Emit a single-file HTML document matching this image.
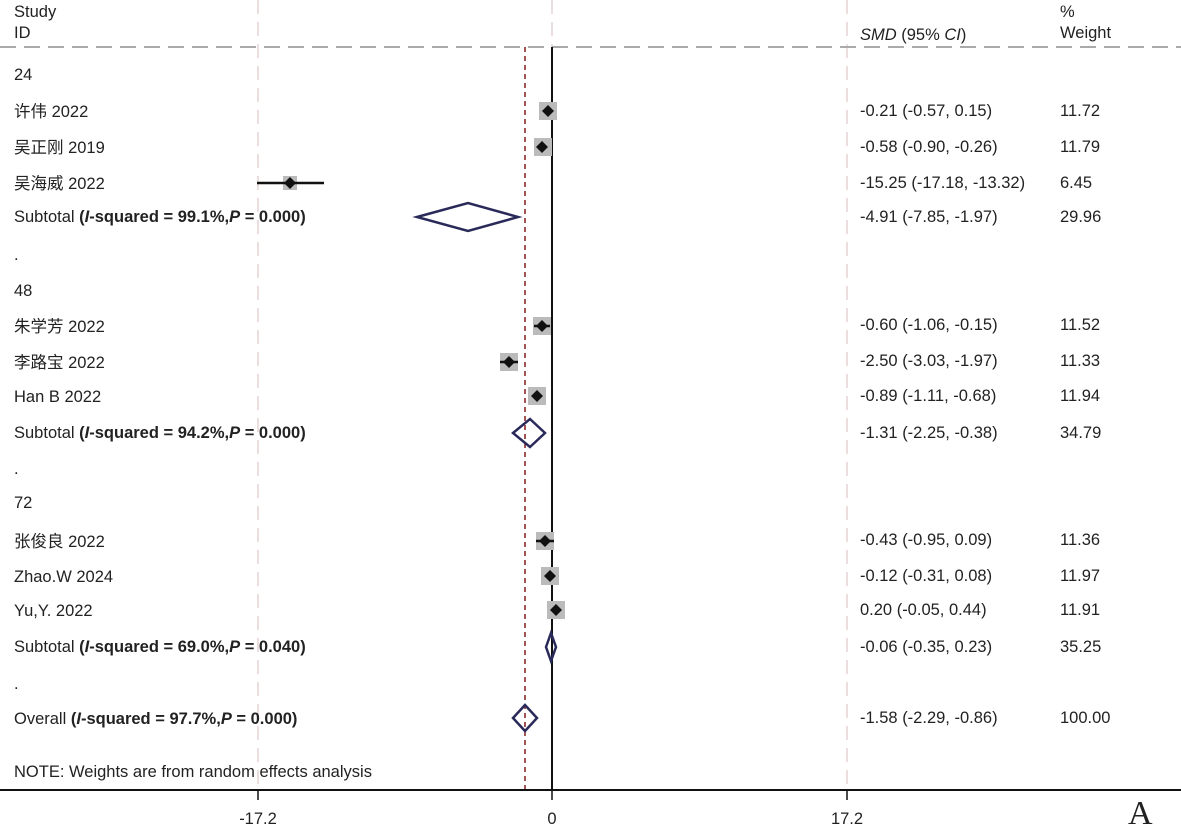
<!DOCTYPE html>
<html><head><meta charset="utf-8"><style>
body{margin:0;background:#fff}
svg text{font-family:"Liberation Sans","Noto Sans CJK SC",sans-serif;font-size:16.5px;fill:#222}
</style></head><body>
<svg width="1181" height="831" viewBox="0 0 1181 831" xmlns="http://www.w3.org/2000/svg">
<g stroke="#ecdede" stroke-width="2" stroke-dasharray="14,8">
<line x1="258" y1="0" x2="258" y2="790"/>
<line x1="552" y1="0" x2="552" y2="47"/>
<line x1="847" y1="0" x2="847" y2="790"/>
</g>
<line x1="0" y1="47" x2="1181" y2="47" stroke="#aaa" stroke-width="2" stroke-dasharray="16,8"/>
<line x1="552" y1="47" x2="552" y2="790" stroke="#111" stroke-width="2"/>
<line x1="525" y1="47" x2="525" y2="790" stroke="#8b2a2a" stroke-width="1.6" stroke-dasharray="5,4"/>
<line x1="0" y1="790" x2="1181" y2="790" stroke="#111" stroke-width="2"/>
<g stroke="#111" stroke-width="1.5"><line x1="258" y1="790" x2="258" y2="800"/><line x1="552" y1="790" x2="552" y2="800"/><line x1="847" y1="790" x2="847" y2="800"/></g>
<text x="258" y="824" text-anchor="middle">-17.2</text>
<text x="552" y="824" text-anchor="middle">0</text>
<text x="847" y="824" text-anchor="middle">17.2</text>
<text x="1128" y="824" style="font-family:'Liberation Serif',serif;font-size:34px">A</text>

<text x="14" y="17">Study</text><text x="14" y="38">ID</text>
<text x="860" y="40"><tspan font-style="italic">SMD</tspan> (95% <tspan font-style="italic">CI</tspan>)</text>
<text x="1060" y="17">%</text><text x="1060" y="38">Weight</text>

<g fill="#bbb">
<rect x="539" y="102" width="18" height="18"/>
<rect x="534" y="138" width="18" height="18"/>
<rect x="283" y="176" width="14" height="14"/>
<rect x="533" y="317" width="18" height="18"/>
<rect x="500" y="353" width="18" height="18"/>
<rect x="528" y="387" width="18" height="18"/>
<rect x="536" y="532" width="18" height="18"/>
<rect x="541" y="567" width="18" height="18"/>
<rect x="547" y="601" width="18" height="18"/>
</g>
<g stroke="#111" stroke-width="2.5">
<line x1="257" y1="183" x2="324" y2="183"/>
<line x1="500" y1="362" x2="518" y2="362"/>
<line x1="534" y1="326" x2="550" y2="326"/>
<line x1="536" y1="541" x2="554" y2="541"/>
</g>
<g fill="#111">
<path d="M548 105l6 6-6 6-6-6z"/><path d="M542 141l6 6-6 6-6-6z"/><path d="M290 177l6 6-6 6-6-6z"/>
<path d="M542 320l6 6-6 6-6-6z"/><path d="M509 356l6 6-6 6-6-6z"/><path d="M537 390l6 6-6 6-6-6z"/>
<path d="M545 535l6 6-6 6-6-6z"/><path d="M550 570l6 6-6 6-6-6z"/><path d="M556 604l6 6-6 6-6-6z"/>
</g>
<g fill="none" stroke="#2a2a5a" stroke-width="2.5">
<path d="M417 217L468 203L518 217L468 231Z"/>
<path d="M513 433L530 419L545 433L530 447Z"/>
<path d="M546 647L551 633L556 647L551 661Z"/>
<path d="M513 718L525 705L537 718L525 731Z"/>
</g>

<g>
<text x="14" y="80">24</text>
<text x="14" y="117">许伟 2022</text>
<text x="14" y="153">吴正刚 2019</text>
<text x="14" y="189">吴海威 2022</text>
<text x="14" y="222">Subtotal  <tspan font-weight="bold">(<tspan font-style="italic">I</tspan>-squared = 99.1%,<tspan font-style="italic">P</tspan> = 0.000)</tspan></text>
<text x="14" y="260">.</text>
<text x="14" y="296">48</text>
<text x="14" y="332">朱学芳 2022</text>
<text x="14" y="368">李路宝 2022</text>
<text x="14" y="402">Han B 2022</text>
<text x="14" y="438">Subtotal  <tspan font-weight="bold">(<tspan font-style="italic">I</tspan>-squared = 94.2%,<tspan font-style="italic">P</tspan> = 0.000)</tspan></text>
<text x="14" y="474">.</text>
<text x="14" y="508">72</text>
<text x="14" y="547">张俊良 2022</text>
<text x="14" y="582">Zhao.W 2024</text>
<text x="14" y="616">Yu,Y. 2022</text>
<text x="14" y="652">Subtotal  <tspan font-weight="bold">(<tspan font-style="italic">I</tspan>-squared = 69.0%,<tspan font-style="italic">P</tspan> = 0.040)</tspan></text>
<text x="14" y="689">.</text>
<text x="14" y="724">Overall  <tspan font-weight="bold">(<tspan font-style="italic">I</tspan>-squared = 97.7%,<tspan font-style="italic">P</tspan> = 0.000)</tspan></text>
<text x="14" y="777">NOTE: Weights are from random effects analysis</text>
</g>
<g>
<text x="860" y="116">-0.21 (-0.57, 0.15)</text><text x="1060" y="116">11.72</text>
<text x="860" y="152">-0.58 (-0.90, -0.26)</text><text x="1060" y="152">11.79</text>
<text x="860" y="188">-15.25 (-17.18, -13.32)</text><text x="1060" y="188">6.45</text>
<text x="860" y="222">-4.91 (-7.85, -1.97)</text><text x="1060" y="222">29.96</text>
<text x="860" y="330">-0.60 (-1.06, -0.15)</text><text x="1060" y="330">11.52</text>
<text x="860" y="366">-2.50 (-3.03, -1.97)</text><text x="1060" y="366">11.33</text>
<text x="860" y="401">-0.89 (-1.11, -0.68)</text><text x="1060" y="401">11.94</text>
<text x="860" y="438">-1.31 (-2.25, -0.38)</text><text x="1060" y="438">34.79</text>
<text x="860" y="545">-0.43 (-0.95, 0.09)</text><text x="1060" y="545">11.36</text>
<text x="860" y="581">-0.12 (-0.31, 0.08)</text><text x="1060" y="581">11.97</text>
<text x="860" y="615">0.20 (-0.05, 0.44)</text><text x="1060" y="615">11.91</text>
<text x="860" y="652">-0.06 (-0.35, 0.23)</text><text x="1060" y="652">35.25</text>
<text x="860" y="723">-1.58 (-2.29, -0.86)</text><text x="1060" y="723">100.00</text>
</g>
</svg>
</body></html>
